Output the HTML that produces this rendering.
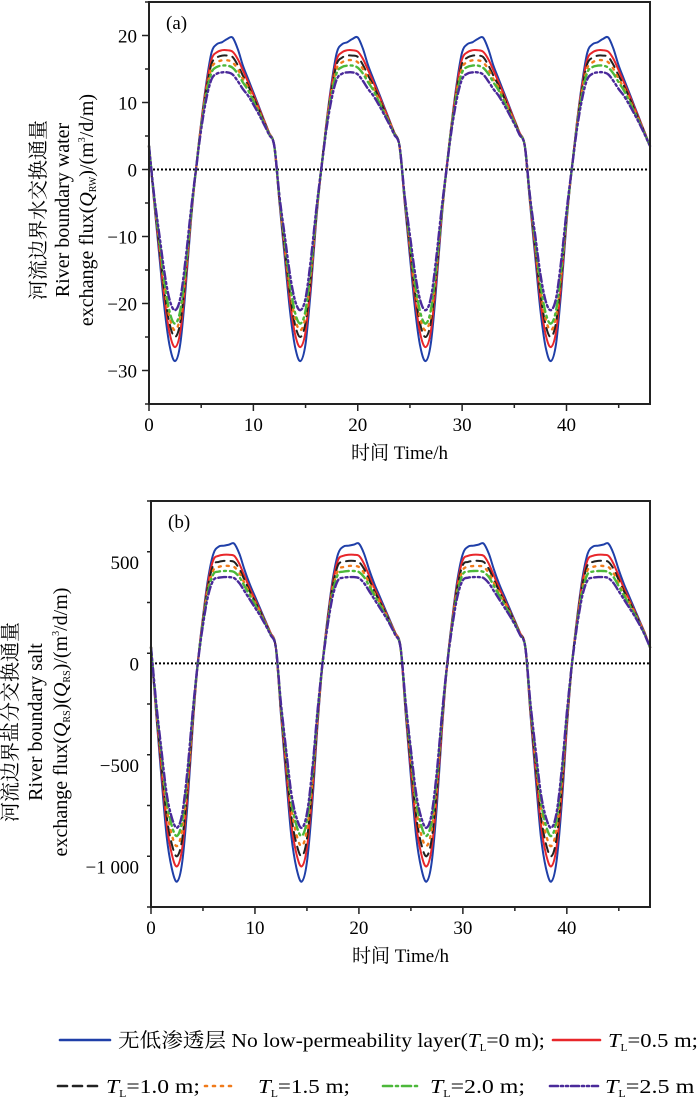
<!DOCTYPE html>
<html><head><meta charset="utf-8"><style>
html,body{margin:0;padding:0;background:#fff;}
svg{display:block;font-family:"Liberation Serif","Noto Serif CJK SC",serif;}
</style></head><body>
<svg id="s" width="700" height="1107" viewBox="0 0 700 1107"></svg>
<script>
const hoursCycle=[0,0.5,1,1.5,2,2.5,3,3.5,4,4.5,5,5.5,6,6.5,7,7.5,8,8.5,9,9.5,10,10.5,11,11.5,12];
const cycleCount=4;
const seriesNames=["TL=0","TL=0.5","TL=1.0","TL=1.5","TL=2.0","TL=2.5"];
const waterBlue=[3.5,-5,-13,-21,-26.5,-28.6,-26,-18,-8,0,7,13,17.5,18.7,19,19.5,19.7,18,15.5,13.5,11.5,9.5,7.5,5.5,3.5];
const waterRed=[3.5,-4.7,-12,-19.5,-24.6,-26.5,-24.2,-16.8,-7.5,0,6.8,12.5,16.5,17.5,17.8,17.8,17.6,16.5,14.8,13,11.2,9.3,7.4,5.5,3.5];
const waterBlack=[3.5,-4.5,-11.5,-18.5,-23.2,-25,-22.8,-16,-7.2,0,6.6,12,15.8,16.7,17,17,16.8,15.6,14,12.5,10.8,9,7.2,5.4,3.5];
const waterOrange=[3.5,-4.3,-11,-17.8,-22.3,-24,-21.9,-15.4,-7,0,6.5,11.7,15.2,16,16.3,16.3,16,15,13.5,12.2,10.5,8.8,7.1,5.3,3.5];
const waterGreen=[3.5,-4.2,-10.6,-17,-21.4,-23,-21,-14.8,-6.8,0,6.3,11.3,14.5,15.3,15.5,15.5,15.2,14.3,13,11.8,10.2,8.6,7,5.3,3.5];
const waterPurple=[3.5,-4,-9.8,-15.6,-19.6,-21,-19.2,-13.5,-6.3,0,6,10.6,13.5,14.3,14.5,14.5,14.2,13.2,12,11,9.7,8.3,6.8,5.2,3.5];
const saltBlue=[80,-250,-560,-850,-1010,-1075,-980,-700,-320,0,230,420,540,575,580,585,590,540,460,390,330,270,210,150,80];
const saltRed=[80,-235,-520,-790,-940,-1000,-910,-650,-300,0,220,400,510,530,535,535,530,490,430,370,315,260,205,150,80];
const saltBlack=[80,-225,-495,-750,-890,-950,-865,-620,-285,0,212,385,485,500,505,505,500,465,410,355,305,255,200,145,80];
const saltOrange=[80,-215,-470,-710,-845,-900,-820,-590,-270,0,205,370,460,475,480,480,475,445,395,345,300,250,198,145,80];
const saltGreen=[80,-205,-445,-675,-800,-850,-775,-555,-255,0,198,355,440,452,455,455,450,425,380,335,290,245,195,142,80];
const saltPurple=[80,-195,-425,-640,-760,-810,-740,-530,-245,0,190,335,410,422,425,425,420,395,355,315,275,235,190,140,80];
const xTicks=[0,10,20,30,40];
const waterYTicks=[20,10,0,-10,-20,-30];
const saltYTicks=[500,0,-500,-1000];
const saltYLabels=["500","0","-500","-1 000"];

const NS="http://www.w3.org/2000/svg";
const svg=document.getElementById('s');
function mk(tag,attrs,parent,text){const e=document.createElementNS(NS,tag);for(const k in attrs)e.setAttribute(k,attrs[k]);if(text!==undefined)e.textContent=text;(parent||svg).appendChild(e);return e;}
const styles=[
 {c:"#1f3fa8",d:"",w:2},{c:"#e8262a",d:"",w:2},{c:"#222",d:"9,6",w:2},
 {c:"#f07a1a",d:"2,6",w:2.4},{c:"#4cb83a",d:"9,4,2,4",w:2.4},{c:"#4a2a9a",d:"8,3,2,3,2,3",w:2.4}];

function pathFrom(pts){let d="M"+pts[0][0].toFixed(1)+","+pts[0][1].toFixed(1);
 for(let i=0;i<pts.length-1;i++){const p0=pts[i-1]||pts[i],p1=pts[i],p2=pts[i+1],p3=pts[i+2]||p2;
  d+=" C"+(p1[0]+(p2[0]-p0[0])/6).toFixed(1)+","+(p1[1]+(p2[1]-p0[1])/6).toFixed(1)+" "+(p2[0]-(p3[0]-p1[0])/6).toFixed(1)+","+(p2[1]-(p3[1]-p1[1])/6).toFixed(1)+" "+p2[0].toFixed(1)+","+p2[1].toFixed(1);}
 return d;}

function chart(cfg){
 const g=mk('g',{},svg);
 const X=h=>cfg.x0+(h-0)/48*(cfg.x1-cfg.x0);
 const Y=v=>cfg.yb+(v-cfg.vmin)/(cfg.vmax-cfg.vmin)*(cfg.yt-cfg.yb);
 const z=mk('line',{x1:cfg.x0,x2:cfg.x1,y1:Y(0),y2:Y(0),stroke:"#000","stroke-width":2,"stroke-dasharray":"2,2"},g);
 
 cfg.series.forEach((arr,si)=>{const pts=[];
  for(let c=0;c<cycleCount;c++)for(let i=(c?1:0);i<hoursCycle.length;i++)pts.push([X(hoursCycle[i]+12*c),Y(arr[i])]);
  const st=styles[si];
  const p=mk('path',{d:pathFrom(pts),fill:"none",stroke:st.c,"stroke-width":st.w,"stroke-dasharray":st.d,"stroke-linecap":"round"},g);
  });
 const f=mk('rect',{x:cfg.x0,y:cfg.yt,width:cfg.x1-cfg.x0,height:cfg.yb-cfg.yt,fill:"none",stroke:"#222","stroke-width":2},g);
 
 for(let h=0;h<=45;h+=5){const maj=h%10===0;mk('line',{x1:X(h),x2:X(h),y1:cfg.yb,y2:cfg.yb+(maj?7:4),stroke:"#222","stroke-width":1.5},g);}
 xTicks.forEach(h=>{const t=mk('text',{x:X(h),y:cfg.yb+27,"font-size":19,"text-anchor":"middle"},g,String(h));
  });
 const xt=mk('text',{x:X(24),y:cfg.yb+55,"font-size":19,"text-anchor":"middle"},g,"时间 Time/h");
 
 for(let v=cfg.vmin;v<=cfg.vmax+1e-9;v+=cfg.minor){const maj=Math.abs(Math.round(v/cfg.major)*cfg.major-v)<1e-6;
  mk('line',{x1:cfg.x0,x2:cfg.x0-(maj?7:4),y1:Y(v),y2:Y(v),stroke:"#222","stroke-width":1.5},g);}
 cfg.yticks.forEach((v,i)=>{const t=mk('text',{x:cfg.x0-12,y:Y(v)+7,"font-size":19,"text-anchor":"end"},g,cfg.ylabels?cfg.ylabels[i]:String(v).replace('-','−'));
  });
 const pl=mk('text',{x:cfg.x0+17,y:cfg.yt+27,"font-size":19},g,cfg.panel);
 
 const yg=mk('g',{transform:"translate(0,"+cfg.ymid+") rotate(-90)"},g);
 
 cfg.ytitle.forEach((ln,i)=>{const t=mk('text',{x:0,y:cfg.ytx[i],"font-size":20,"text-anchor":"middle"},yg);t.innerHTML=ln;});
}

chart({name:"chart-water-flux",panel:"(a)",x0:149,x1:650,yt:2,yb:404,vmin:-35,vmax:25,major:10,minor:5,
 yticks:waterYTicks,series:[waterBlue,waterRed,waterBlack,waterOrange,waterGreen,waterPurple],ymid:210,ytx:[45,69,93],
 ytitle:["河流边界水交换通量","River boundary water","exchange flux(<tspan font-style='italic'>Q</tspan><tspan font-size='10' dy='3'>RW</tspan><tspan dy='-3'>)/(m</tspan><tspan font-size='10' dy='-8'>3</tspan><tspan dy='8'>/d/m)</tspan>"]});
chart({name:"chart-salt-flux",panel:"(b)",x0:151,x1:650,yt:501,yb:907,vmin:-1200,vmax:800,major:500,minor:250,
 yticks:saltYTicks,ylabels:saltYLabels.map(s=>s.replace('-','−')),series:[saltBlue,saltRed,saltBlack,saltOrange,saltGreen,saltPurple],ymid:722,ytx:[17,42,67],
 ytitle:["河流边界盐分交换通量","River boundary salt","exchange flux(<tspan font-style='italic'>Q</tspan><tspan font-size='10' dy='3'>RS</tspan><tspan dy='-3'>)(</tspan><tspan font-style='italic'>Q</tspan><tspan font-size='10' dy='3'>RS</tspan><tspan dy='-3'>)/(m</tspan><tspan font-size='10' dy='-8'>3</tspan><tspan dy='8'>/d/m)</tspan>"]});

const lg=mk('g',{},svg);
const legendItems=[
 {s:0,x1:60,x2:110,y:1040,tx:118,w:427,label:"无低渗透层 No low-permeability layer(<tspan font-style='italic'>T</tspan><tspan font-size='10' dy='4'>L</tspan><tspan dy='-4'>=0 m);</tspan>"},
 {s:1,x1:553,x2:600,y:1040,tx:608,w:90,label:"<tspan font-style='italic'>T</tspan><tspan font-size='10' dy='4'>L</tspan><tspan dy='-4'>=0.5 m;</tspan>"},
 {s:2,x1:58,x2:100,y:1086,tx:106,w:94,label:"<tspan font-style='italic'>T</tspan><tspan font-size='10' dy='4'>L</tspan><tspan dy='-4'>=1.0 m;</tspan>"},
 {s:3,x1:205,x2:236,y:1086,tx:258,w:92,label:"<tspan font-style='italic'>T</tspan><tspan font-size='10' dy='4'>L</tspan><tspan dy='-4'>=1.5 m;</tspan>"},
 {s:4,x1:383,x2:420,y:1086,tx:430,w:95,label:"<tspan font-style='italic'>T</tspan><tspan font-size='10' dy='4'>L</tspan><tspan dy='-4'>=2.0 m;</tspan>"},
 {s:5,x1:550,x2:598,y:1086,tx:605,w:90,label:"<tspan font-style='italic'>T</tspan><tspan font-size='10' dy='4'>L</tspan><tspan dy='-4'>=2.5 m</tspan>"}];
legendItems.forEach(it=>{const st=styles[it.s];
 const e=mk('g',{},lg);
 mk('line',{x1:it.x1,x2:it.x2,y1:it.y,y2:it.y,stroke:st.c,"stroke-width":2.6,"stroke-dasharray":st.d,"stroke-linecap":"round"},e);
 const t=mk('text',{x:it.tx,y:it.y+7,"font-size":20},e);t.innerHTML=it.label;
 const bw=t.getBBox().width;if(bw>0)t.setAttribute('transform','translate('+it.tx+',0) scale('+(it.w/bw)+',1) translate('+(-it.tx)+',0)');});
</script>
</body></html>
